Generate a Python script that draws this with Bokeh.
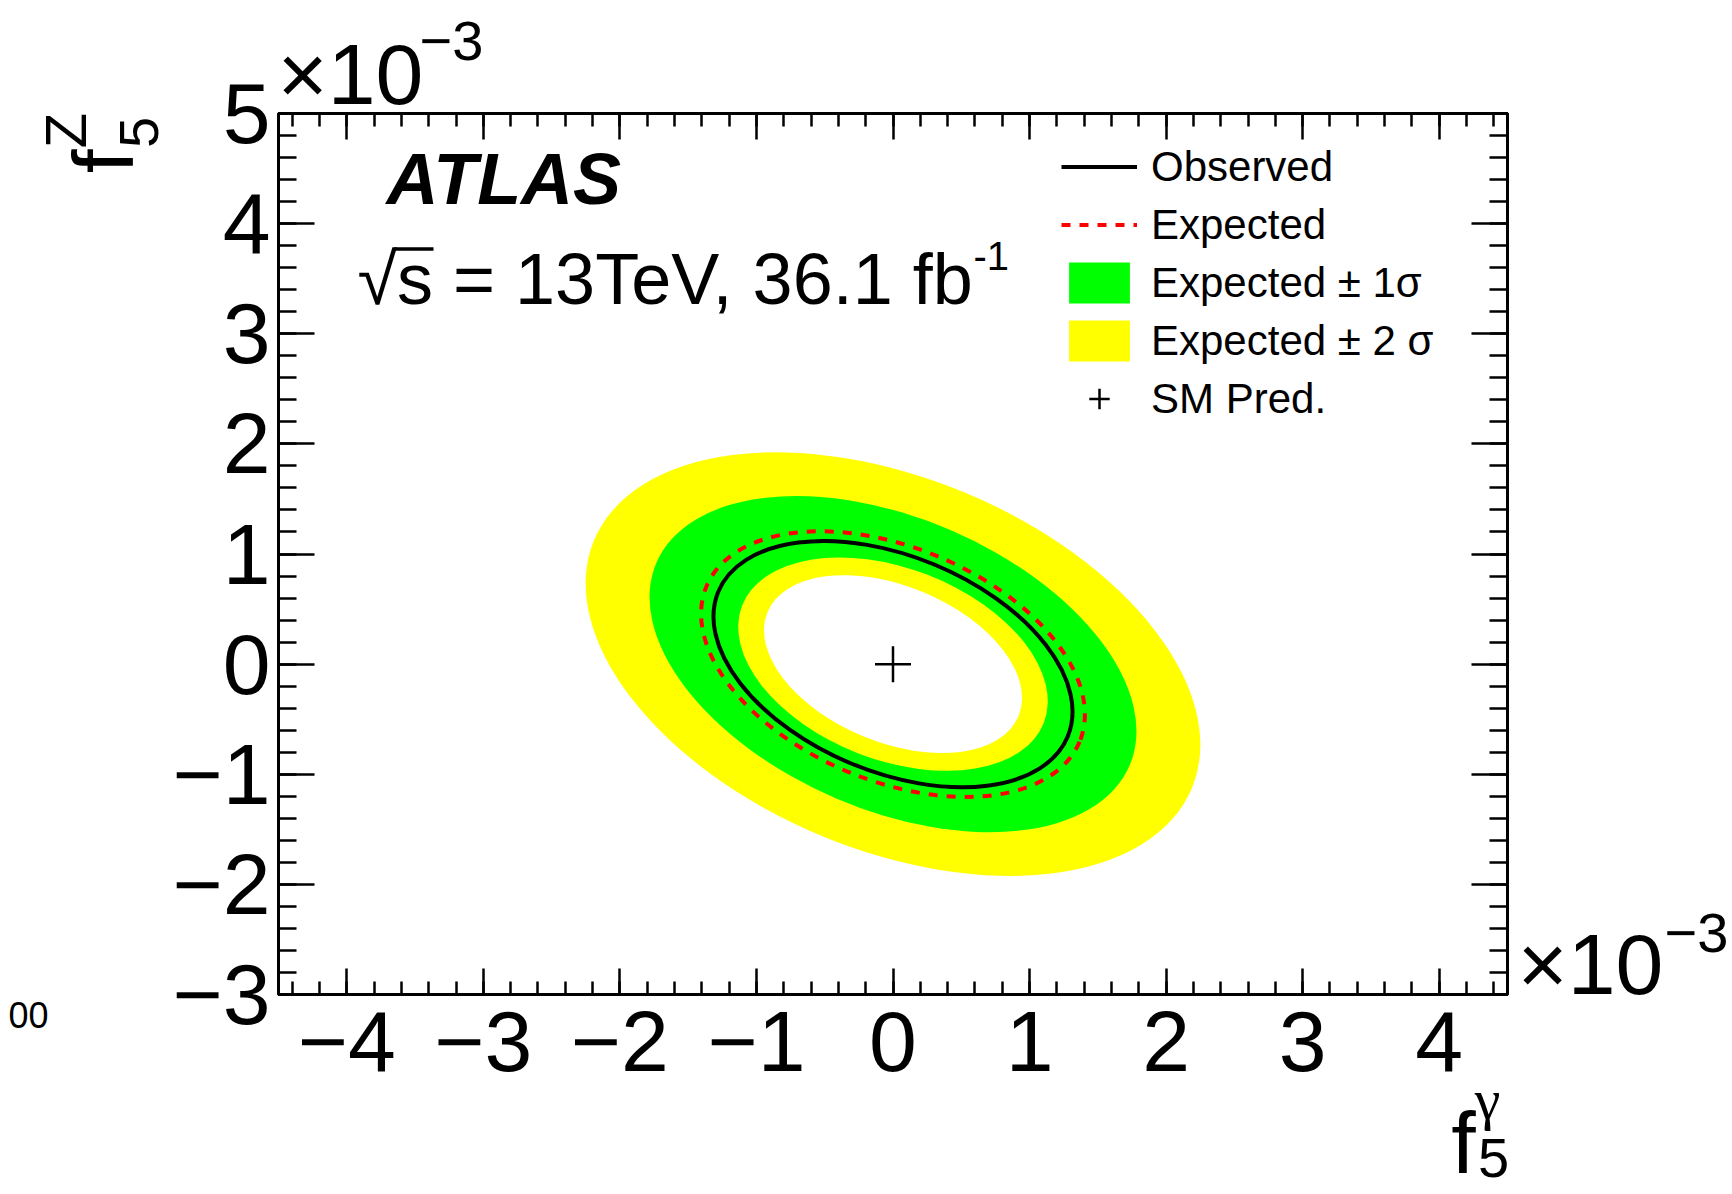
import numpy as np
from bokeh.plotting import figure
from bokeh.models import (ColumnDataSource, FixedTicker, LinearAxis, Label, Legend,
                          LegendItem, CustomJSTickFormatter, BoxAnnotation)
from bokeh.embed import file_html
from bokeh.resources import INLINE

# ---------------- data (units of 1e-3) ----------------
x_ticks = [-4, -3, -2, -1, 0, 1, 2, 3, 4]
x_tick_labels = ["\u22124", "\u22123", "\u22122", "\u22121", "0", "1", "2", "3", "4"]
y_ticks = [-3, -2, -1, 0, 1, 2, 3, 4, 5]
y_tick_labels = ["\u22123", "\u22122", "\u22121", "0", "1", "2", "3", "4", "5"]
x_minor = [round(-4.4 + 0.2 * i, 1) for i in range(45)]
y_minor = [round(-3.0 + 0.2 * i, 1) for i in range(41)]

# expected +-1/2 sigma band boundaries (ellipse: centre, full axes, tilt in degrees)
band_names = ["exp_plus_2sigma", "exp_plus_1sigma", "exp_minus_1sigma", "exp_minus_2sigma"]
band_cx = [0.0, 0.0, 0.0, 0.0]
band_cy = [0.0, 0.0, 0.0, 0.0]
band_w = [4.74, 3.77, 2.37, 1.99]
band_h = [3.38, 2.65, 1.74, 1.42]
band_tilt = [-22.5, -23.2, -21.2, -22.5]

exp_cx, exp_cy, exp_w, exp_h, exp_tilt = [0.0], [0.0], [2.96], [2.12], [-22.6]
obs_cx, obs_cy, obs_w, obs_h, obs_tilt = [0.0], [0.0], [2.77], [1.96], [-22.5]

sm_x = [0.0]
sm_y = [0.0]

# ---------------- figure ----------------
W, H = 1732, 1194
BL, BR, BT, BB = 278, 225, 113, 198
FW, FH = W - BL - BR, H - BT - BB

p = figure(width=W, height=H, x_range=(-4.5, 4.5), y_range=(-3, 5),
           output_backend="svg", toolbar_location=None,
           min_border_left=BL, min_border_right=BR, min_border_top=BT, min_border_bottom=BB,
           x_axis_location=None, y_axis_location=None)
p.xgrid.visible = False
p.ygrid.visible = False
p.background_fill_color = "white"
p.border_fill_color = "white"
p.outline_line_color = "black"
p.outline_line_width = 3

FONT = "Liberation Sans"


def dx(px):
    return round(-4.5 + (px - BL) / (FW / 9.0), 4)


def dy(py):
    return round(5.0 - (py - BT) / (FH / 8.0), 4)


def tick_axis(kind, labels):
    horiz = kind in ("below", "above")
    ticks = x_ticks if horiz else y_ticks
    minor = x_minor if horiz else y_minor
    ax = LinearAxis(ticker=FixedTicker(ticks=ticks, minor_ticks=minor))
    if labels:
        ax.major_label_overrides = dict(zip(ticks, x_tick_labels if horiz else y_tick_labels))
        ax.major_label_text_font = FONT
        ax.major_label_text_font_size = "86px"
        ax.major_label_text_color = "black"
        ax.major_label_standoff = 17 if kind == "below" else 8
    else:
        ax.formatter = CustomJSTickFormatter(code="return ''")
        ax.major_label_text_font_size = "0px"
        ax.major_label_standoff = 0
    ax.axis_line_width = 3
    ax.axis_line_color = "black"
    ax.major_tick_line_width = 2.5
    ax.minor_tick_line_width = 2.5
    ax.major_tick_out = 0
    ax.minor_tick_out = 0
    ax.major_tick_in = 26 if horiz else 36
    ax.minor_tick_in = 13 if horiz else 18
    p.add_layout(ax, kind)


def text_axis(side, pos, text, size, standoff, font=FONT, orientation="horizontal", line_height=None):
    # an axis without line or ticks, used only to place one text outside the frame
    ax = LinearAxis(ticker=FixedTicker(ticks=[pos], minor_ticks=[]))
    ax.major_label_overrides = {pos: text}
    ax.axis_line_color = None
    ax.major_tick_line_color = None
    ax.minor_tick_line_color = None
    ax.major_tick_in = 0
    ax.major_tick_out = 0
    ax.minor_tick_in = 0
    ax.minor_tick_out = 0
    ax.major_label_text_font = font
    ax.major_label_text_font_size = f"{size}px"
    ax.major_label_text_color = "black"
    ax.major_label_standoff = standoff
    ax.major_label_orientation = orientation
    if line_height is not None:
        ax.major_label_text_line_height = line_height
    p.add_layout(ax, side)


# frame axes (first added lies next to the frame)
tick_axis("below", True)
tick_axis("left", True)
tick_axis("above", False)
tick_axis("right", False)

# x10^-3 multipliers
text_axis("above", dx(350), "\u00d710", 86, -8)
text_axis("above", dx(451), "\u22123", 56, -37)
text_axis("right", dy(965), "\u00d710", 86, 10)
text_axis("right", dy(934), "\u22123", 56, -2)

# y title  f_5^Z  (rotated)
text_axis("left", dy(132), "5", 56, 11, orientation="parallel")
text_axis("left", dy(161), "f", 86, -34, orientation="parallel")
text_axis("left", dy(130), "Z", 58, -46, orientation="parallel")
# clipped fragment at the left edge
text_axis("left", -3, "\n00", 36, -18, line_height=1.0)

# x title  f_5^gamma
text_axis("below", dx(1487), "\u03b3", 58, -7, font="Liberation Serif")
text_axis("below", dx(1463), "f", 88, -42)
text_axis("below", dx(1493), "5", 56, -56)

# ---------------- bands and contours ----------------
band_colors = ["#ffff00", "#00ff00", "#ffff00", "#ffffff"]
band_src = ColumnDataSource(dict(name=band_names, x=band_cx, y=band_cy, w=band_w, h=band_h,
                                 a=band_tilt, c=band_colors))
p.ellipse(x="x", y="y", width="w", height="h", angle="a", angle_units="deg",
          fill_color="c", line_color=None, source=band_src)

p.ellipse(x=exp_cx, y=exp_cy, width=exp_w, height=exp_h, angle=exp_tilt, angle_units="deg",
          fill_color=None, line_color="#ff0000", line_width=4, line_dash="9 9")
p.ellipse(x=obs_cx, y=obs_cy, width=obs_w, height=obs_h, angle=obs_tilt, angle_units="deg",
          fill_color=None, line_color="black", line_width=4)

r_sm = p.scatter(x=sm_x, y=sm_y, marker="cross", size=36, line_color="black", line_width=2.5)

# legend-only renderers (nothing visible in the frame)
nan_line = ColumnDataSource(dict(x=np.array([np.nan]), y=np.array([np.nan])))
nan_box = ColumnDataSource(dict(l=np.array([np.nan]), r=np.array([np.nan]),
                                t=np.array([np.nan]), b=np.array([np.nan])))
r_obs = p.line(x="x", y="y", source=nan_line, line_color="black", line_width=4)
r_exp = p.line(x="x", y="y", source=nan_line, line_color="#ff0000", line_width=4, line_dash="9 9")
r_g = p.quad(left="l", right="r", top="t", bottom="b", source=nan_box, fill_color="#00ff00", line_color=None)
r_y = p.quad(left="l", right="r", top="t", bottom="b", source=nan_box, fill_color="#ffff00", line_color=None)

legend = Legend(items=[LegendItem(label="Observed", renderers=[r_obs]),
                       LegendItem(label="Expected", renderers=[r_exp]),
                       LegendItem(label="Expected \u00b1 1\u03c3", renderers=[r_g]),
                       LegendItem(label="Expected \u00b1 2 \u03c3", renderers=[r_y]),
                       LegendItem(label="SM Pred.", renderers=[r_sm])],
                location=(1061 - BL, (BT + FH) - (143 + 5 * 51 + 4 * 7)),
                glyph_width=76, glyph_height=51, label_standoff=14, spacing=7,
                padding=0, margin=0, border_line_color=None, background_fill_alpha=0,
                label_text_font=FONT, label_text_font_size="42px", label_text_color="black",
                label_text_baseline="middle")
p.add_layout(legend)

# ---------------- text inside the frame ----------------
def lab(px, baseline, text, size, font=FONT, style="normal"):
    p.add_layout(Label(x=dx(px), y=dy(baseline - 0.345 * size), x_units="data", y_units="data",
                       text=text, text_font=font, text_font_size=f"{size}px",
                       text_font_style=style, text_align="left", text_baseline="middle",
                       text_color="black"))

lab(386, 203, "ATLAS", 72, style="bold italic")
lab(357, 304, "\u221as = 13TeV, 36.1 fb", 72)
lab(973, 270, "-1", 40)
p.add_layout(BoxAnnotation(left=dx(394), right=dx(433), top=dy(247), bottom=dy(250.5),
                           fill_color="black", fill_alpha=1.0, line_color=None))

open("out.html", "w").write(file_html(p, INLINE))
